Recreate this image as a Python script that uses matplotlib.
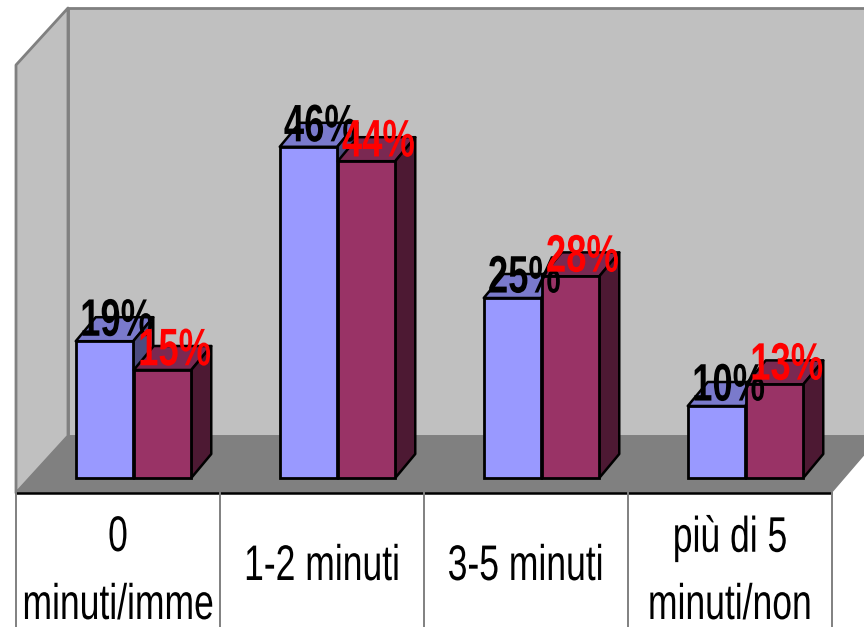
import matplotlib
matplotlib.use("Agg")
import matplotlib.pyplot as plt
from matplotlib.patches import Polygon
from matplotlib.patheffects import AbstractPathEffect
from matplotlib.transforms import Affine2D

categories = ["0\nminuti/imme", "1-2 minuti", "3-5 minuti", "più di 5\nminuti/non"]
series_a = [19, 46, 25, 10]
series_b = [15, 44, 28, 13]
labels_a = ["19%", "46%", "25%", "10%"]
labels_b = ["15%", "44%", "28%", "13%"]

W, H = 864, 627
family = ["Liberation Sans", "DejaVu Sans"]


class Squeeze(AbstractPathEffect):
    """Draws a real text narrower, around its own horizontal centre."""

    def __init__(self, factor):
        super().__init__()
        self.factor = factor

    def draw_path(self, renderer, gc, tpath, affine, rgbFace=None):
        box = tpath.get_extents(affine)
        c = (box.x0 + box.x1) / 2
        squeezed = affine + Affine2D().translate(-c, 0).scale(self.factor, 1).translate(c, 0)
        renderer.draw_path(gc, tpath, squeezed, rgbFace)


fig = plt.figure(figsize=(W / 100, H / 100), dpi=100, facecolor="white")
ax = fig.add_axes([0, 0, 1, 1])
ax.axis("off")

# scale: one category = 204 px, one percentage point = 7.2 px
CAT = 204.0
PCT = 7.2
X0, Y0 = 118.0, 478.0
ax.set_xlim(-X0 / CAT, (W - X0) / CAT)
ax.set_ylim((Y0 - H) / PCT, Y0 / PCT)


def X(px):
    return (px - X0) / CAT


def Y(py):
    return (Y0 - py) / PCT


def frame(pts, fc, ec="#808080", lw=2.0, z=1):
    ax.add_patch(Polygon([(X(a), Y(b)) for a, b in pts], closed=True, fc=fc, ec=ec,
                         lw=lw, zorder=z, joinstyle="round", clip_on=True))


# walls and floor
frame([(68, 8), (880, 8), (880, 436), (68, 436)], "#C0C0C0")
frame([(16, 65), (68, 8), (68, 436), (16, 493)], "#C0C0C0")
frame([(16, 493), (68, 436), (880, 436), (831, 493)], "#808080", ec="#808080", lw=1, z=2)

# table under the plot
ax.plot([X(16), X(831)], [Y(493), Y(493)], color="black", lw=1.8, zorder=3)
for i in range(len(categories) + 1):
    ax.plot([i - 0.5] * 2, [Y(493), Y(H + 2)], color="#808080", lw=1.4, zorder=3)

bw = 57.5 / CAT
off_a, off_b = -13.5 / CAT, 44.5 / CAT
dx, dy = 20 / CAT, 24 / PCT


def bar3d(x, v, front, top, side, z):
    ax.bar(x, v, width=bw, color=front, edgecolor="black", linewidth=2.0, zorder=z + 0.2)
    l, r = x - bw / 2, x + bw / 2
    for pts, c in (([(l, v), (l + dx, v + dy), (r + dx, v + dy), (r, v)], top),
                   ([(r, 0), (r + dx, dy), (r + dx, v + dy), (r, v)], side)):
        ax.add_patch(Polygon(pts, closed=True, fc=c, ec="black", lw=1.8, zorder=z, joinstyle="round"))


for i, (a, b) in enumerate(zip(series_a, series_b)):
    bar3d(i + off_a, a, "#9999FF", "#7A7ACC", "#4C4C80", 4 + i)
    bar3d(i + off_b, b, "#993366", "#7A2952", "#4D1933", 4.5 + i)

for i, (a, b) in enumerate(zip(series_a, series_b)):
    ax.annotate(labels_a[i], (i + off_a, a), xytext=(8.5, 14), textcoords="offset points",
                ha="center", va="center", fontsize=38, fontweight="bold", family=family,
                color="black", zorder=20, path_effects=[Squeeze(0.69)])
for i, (a, b) in enumerate(zip(series_a, series_b)):
    ax.annotate(labels_b[i], (i + off_b, b), xytext=(8.5, 13.5), textcoords="offset points",
                ha="center", va="center", fontsize=38, fontweight="bold", family=family,
                color="#FF0000", zorder=21, path_effects=[Squeeze(0.69)])

for i, c in enumerate(categories):
    parts = c.split("\n")
    kw = dict(ha="center", va="center", fontsize=36, family=family, zorder=22,
              path_effects=[Squeeze(0.71)])
    if len(parts) == 2:
        ax.text(i, Y(538), parts[0], **kw)
        ax.text(i, Y(606), parts[1], **kw)
    else:
        ax.text(i, Y(567), c, **kw)

fig.savefig("out.png", dpi=100, facecolor="white")
